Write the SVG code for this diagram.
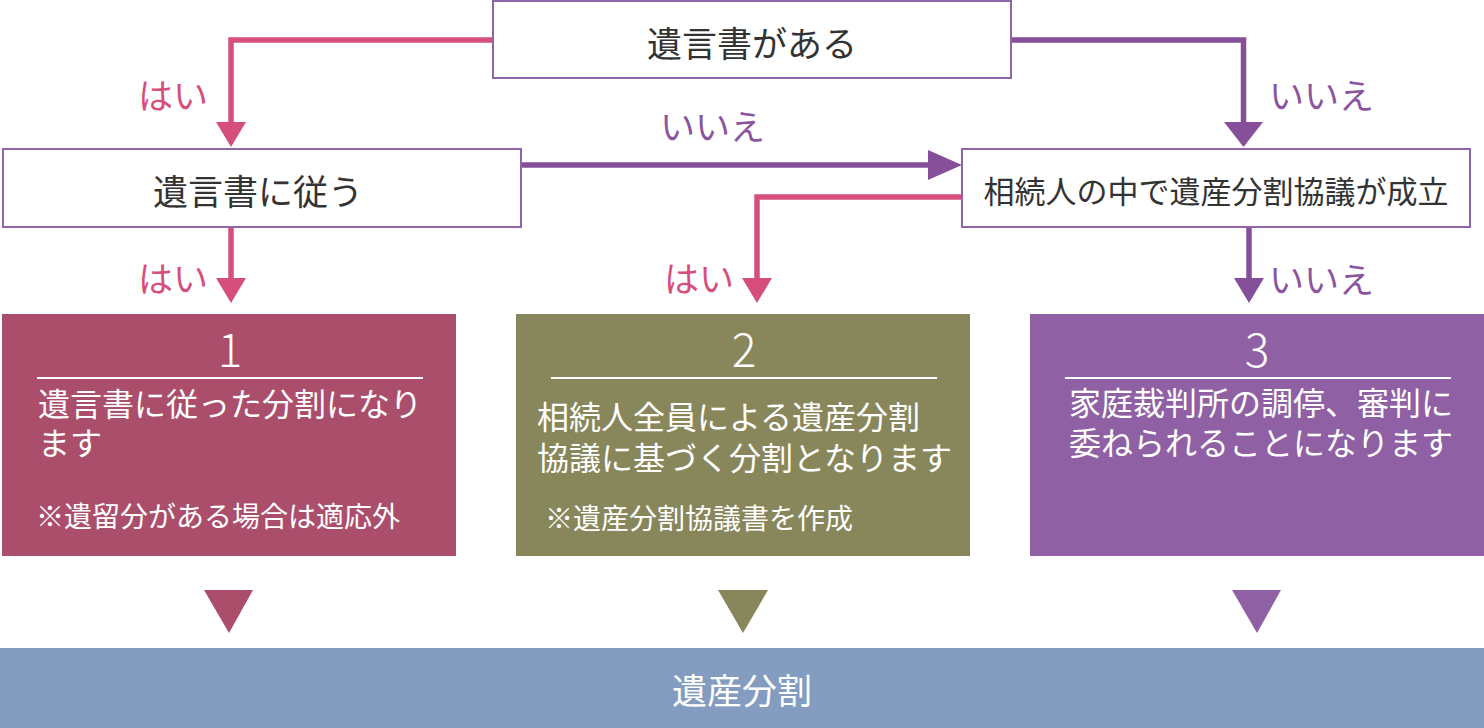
<svg xmlns="http://www.w3.org/2000/svg" width="1484" height="728" viewBox="0 0 1484 728">
<style>
text{font-family:"Noto Sans CJK JP","Noto Sans",sans-serif}
.box{fill:#fff;stroke:#9064a8;stroke-width:2}
.dq{fill:#333;font-size:35px;text-anchor:middle}
.pk{stroke:#d64f7c;stroke-width:5.5;fill:none}
.pu{stroke:#864f99;stroke-width:5.5;fill:none}
.pkf{fill:#d64f7c}
.puf{fill:#864f99}
.lp{fill:#d64f7c;font-size:35px}
.lu{fill:#8a55a0;font-size:35px}
.num{fill:#fff;font-size:46px;font-weight:300;text-anchor:middle}
.body{fill:#fff;font-size:32px}
.note{fill:#fff;font-size:28px}
.rule{stroke:#fff;stroke-width:2}
</style>
<g id="connectors">
<polyline class="pk" points="493,40 231,40 231,123"/>
<polygon class="pkf" points="216,122 246,122 231,147"/>
<polyline class="pu" points="1011,40 1243.5,40 1243.5,123"/>
<polygon class="puf" points="1224,122 1263,122 1243.5,147"/>
<line class="pu" x1="521" y1="165" x2="929" y2="165"/>
<polygon class="puf" points="928,150 928,180 962,165"/>
<polyline class="pk" points="962,197 757,197 757,279"/>
<polygon class="pkf" points="742,278 772,278 757,303"/>
<line class="pk" x1="231" y1="227" x2="231" y2="279"/>
<polygon class="pkf" points="216,278 246,278 231,303"/>
<line class="pu" x1="1249" y1="227" x2="1249" y2="279"/>
<polygon class="puf" points="1234,278 1264,278 1249,303"/>
<text class="lp" x="138" y="109">はい</text>
<text class="lu" x="1269" y="109">いいえ</text>
<text class="lu" x="660" y="140">いいえ</text>
<text class="lp" x="138" y="292">はい</text>
<text class="lp" x="664" y="292">はい</text>
<text class="lu" x="1269" y="293">いいえ</text>
</g>
<g id="n-will">
<rect class="box" x="493" y="1" width="518" height="77"/>
<text class="dq" x="752" y="57">遺言書がある</text>
</g>
<g id="n-follow">
<rect class="box" x="3" y="149" width="518" height="78"/>
<text class="dq" x="258" y="205">遺言書に従う</text>
</g>
<g id="n-agree">
<rect class="box" x="962" y="149" width="508" height="78"/>
<text class="dq" x="1216" y="203" style="font-size:31px">相続人の中で遺産分割協議が成立</text>
</g>
<g id="r1">
<rect x="2" y="314" width="454" height="242" fill="#ab4e6b"/>
<text class="num" x="230" y="367">1</text>
<line class="rule" x1="37" y1="378" x2="423" y2="378"/>
<text class="body" x="38" y="416">遺言書に従った分割になり</text>
<text class="body" x="38" y="455">ます</text>
<text class="note" x="36" y="527">※遺留分がある場合は適応外</text>
</g>
<g id="r2">
<rect x="516" y="314" width="454" height="242" fill="#88875c"/>
<text class="num" x="744" y="367">2</text>
<line class="rule" x1="551" y1="378" x2="937" y2="378"/>
<text class="body" x="537" y="429">相続人全員による遺産分割</text>
<text class="body" x="537" y="470">協議に基づく分割となります</text>
<text class="note" x="545" y="529">※遺産分割協議書を作成</text>
</g>
<g id="r3">
<rect x="1030" y="314" width="454" height="242" fill="#8f60a4"/>
<text class="num" x="1257" y="367">3</text>
<line class="rule" x1="1065" y1="378" x2="1451" y2="378"/>
<text class="body" x="1069" y="415">家庭裁判所の調停、審判に</text>
<text class="body" x="1069" y="455">委ねられることになります</text>
</g>
<g id="tri">
<polygon points="204,590 253,590 229,633" fill="#ab4e6b"/>
<polygon points="718,590 768,590 743,633" fill="#88875c"/>
<polygon points="1232,590 1281,590 1257,633" fill="#8f60a4"/>
</g>
<g id="result">
<rect x="0" y="648" width="1484" height="80" fill="#839cc0"/>
<text x="742" y="704" fill="#fff" font-size="35" text-anchor="middle">遺産分割</text>
</g>
</svg>
